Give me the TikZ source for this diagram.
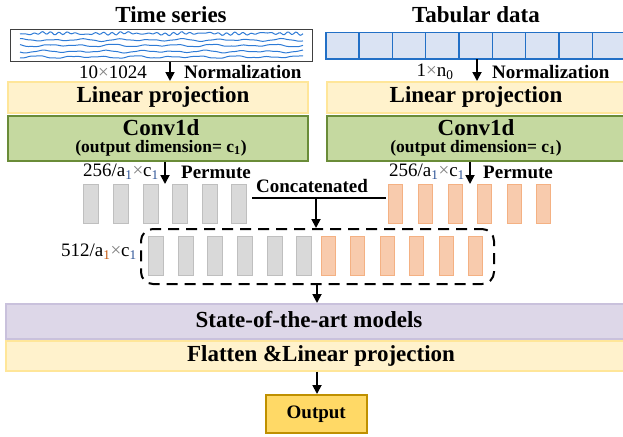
\documentclass[tikz,border=0pt]{standalone}
\usepackage{fontspec}
\setmainfont{Liberation Serif}
\usetikzlibrary{arrows.meta}
\definecolor{lpfill}{HTML}{FFF2CC}
\definecolor{lpdraw}{HTML}{FFE699}
\definecolor{convfill}{HTML}{C5D9A0}
\definecolor{convdraw}{HTML}{6A8C38}
\definecolor{stfill}{HTML}{DDD7E8}
\definecolor{stdraw}{HTML}{C9C1DC}
\definecolor{outfill}{HTML}{FFD966}
\definecolor{outdraw}{HTML}{BF9000}
\definecolor{gfill}{HTML}{D9D9D9}
\definecolor{gdraw}{HTML}{BFBFBF}
\definecolor{ofill}{HTML}{F8CBAD}
\definecolor{odraw}{HTML}{F4B183}
\definecolor{cellfill}{HTML}{DAE3F3}
\definecolor{celldraw}{HTML}{2270C6}
\definecolor{wave}{HTML}{2E7BD6}
\definecolor{subblue}{HTML}{2F5597}
\definecolor{suborange}{HTML}{C55A11}
\newcommand{\ttlfont}{\fontsize{23}{26}\selectfont\bfseries}
\newcommand{\lblfont}{\fontsize{19}{22}\selectfont}
\newcommand{\smfont}{\fontsize{17.5}{20}\selectfont\bfseries}
\newcommand{\sbb}[1]{\textsubscript{\textcolor{subblue}{#1}}}
\newcommand{\sbo}[1]{\textsubscript{\textcolor{suborange}{#1}}}
\newcommand{\tms}{\textcolor{gray}{×}}
\tikzset{
  box/.style={draw, line width=1.5pt, inner sep=0pt, anchor=north west},
  lpbox/.style={box, fill=lpfill, draw=lpdraw},
  convbox/.style={box, fill=convfill, draw=convdraw},
  stbox/.style={box, fill=stfill, draw=stdraw},
  outbox/.style={box, fill=outfill, draw=outdraw},
  grect/.style={draw=gdraw, fill=gfill, line width=1.3pt, minimum width=15pt, minimum height=39pt, inner sep=0pt, anchor=north west},
  orect/.style={draw=odraw, fill=ofill, line width=1.3pt, minimum width=14pt, minimum height=39pt, inner sep=0pt, anchor=north west},
  cellbox/.style={draw=celldraw, fill=cellfill, line width=1.5pt, minimum width=33.33pt, minimum height=26pt, inner sep=0pt, anchor=north west},
  arr/.style={line width=1.8pt, -{Triangle[length=9pt,width=9pt]}},
  txt/.style={inner sep=0pt},
  wv/.style={wave, line width=1pt},
}
\begin{document}
\begin{tikzpicture}[x=1pt,y=-1pt]
\useasboundingbox (0,0) rectangle (623,436);
% titles
\node[txt, font=\ttlfont] (tst) at (171,15) {Time series};
\node[txt, font=\ttlfont] (tabt) at (476,15) {Tabular data};
% time series box
\node[box, draw=black!75, line width=1.2pt, minimum width=302pt, minimum height=32pt] (ts) at (10,29) {};
\draw[wv] plot[domain=20:303, samples=200]
    (\x, {33.5 + 0.8*sin(41*\x) + 0.6*sin(47*\x+40) + 0.5*sin(13*\x+70) + 0.4*sin(5*\x)});
\foreach \i/\yy in {1/40,2/45.5,3/51.5,4/57}{
  \draw[wv] plot[domain=20:303, samples=140]
    (\x, {\yy + 0.8*sin(11*\x+53*\i) + 0.5*sin(7*\x+97*\i) + 0.25*sin(29*\x+31*\i)});
}
% tabular cells
\foreach \k in {0,...,8}{
  \node[cellbox] (cell\k) at ({325+33.33*\k},32) {};
}
% labels under inputs
\node[txt, font=\lblfont] (dimL) at (113,72) {10\tms1024};
\node[txt, font=\lblfont\bfseries, anchor=west] (normL) at (184,72) {Normalization};
\node[txt, font=\lblfont] (dimR) at (435,72) {1\tms n\textsubscript{0}};
\node[txt, font=\lblfont\bfseries, anchor=west] (normR) at (492,72) {Normalization};
% linear projection
\node[lpbox, minimum width=300pt, minimum height=31pt] (lpL) at (7,81) {};
\node[txt, font=\ttlfont] (lpLt) at (163,97) {Linear projection};
\node[lpbox, minimum width=300pt, minimum height=31pt] (lpR) at (326,81) {};
\node[txt, font=\ttlfont] (lpRt) at (476,97) {Linear projection};
% conv
\node[convbox, minimum width=300pt, minimum height=45pt] (cvL) at (7,115) {};
\node[txt, font=\ttlfont] (cvLt) at (161,127.5) {Conv1d};
\node[txt, font=\smfont] (cvLs) at (161,148) {(output dimension= c\textsubscript{1})};
\node[convbox, minimum width=300pt, minimum height=45pt] (cvR) at (326,115) {};
\node[txt, font=\ttlfont] (cvRt) at (476,127.5) {Conv1d};
\node[txt, font=\smfont] (cvRs) at (476,148) {(output dimension= c\textsubscript{1})};
% arrows to linear projection
\draw[arr] (170,0 |- ts.south) -- (170,0 |- lpL.north);
\draw[arr] (477,0 |- cell4.south) -- (477,0 |- lpR.north);
% permute labels
\node[txt, font=\lblfont] (pdL) at (121,172) {256/a\sbb{1}\tms c\sbb{1}};
\node[txt, font=\lblfont\bfseries, anchor=west] (pmL) at (181,172) {Permute};
\node[txt, font=\lblfont] (pdR) at (427,172) {256/a\sbb{1}\tms c\sbb{1}};
\node[txt, font=\lblfont\bfseries, anchor=west] (pmR) at (483,172) {Permute};
% top rows
\foreach \k/\xx in {0/83,1/113,2/143,3/172,4/202,5/231}{
  \node[grect] (tg\k) at (\xx,184) {};
}
\foreach \k/\xx in {0/388,1/418,2/448,3/477,4/507,5/536}{
  \node[orect] (to\k) at (\xx,184) {};
}
\draw[arr] (165,0 |- cvL.south) -- (165,0 |- tg0.north);
\draw[arr] (470,0 |- cvR.south) -- (470,0 |- to0.north);
% concatenation
\node[txt, font=\lblfont\bfseries] (cct) at (312,186) {Concatenated};
\coordinate (cl) at (252,198);
\coordinate (cr) at (386,198);
\coordinate (cm) at (316,198);
\draw[line width=1.8pt] (cl) -- (cr);
% dashed box
\node[draw, line width=2pt, dash pattern=on 11pt off 7pt, dash phase=3pt, rounded corners=12pt, minimum width=353pt, minimum height=55pt, inner sep=0pt, anchor=north west] (cat) at (140,228) {};
\draw[arr] (cm) -- (cm |- cat.north);
\foreach \k/\xx in {0/148,1/178,2/207,3/237,4/267,5/296}{
  \node[grect] (bg\k) at (\xx,236) {};
}
\foreach \k/\xx in {0/321,1/350,2/380,3/409,4/439,5/468}{
  \node[orect] (bo\k) at (\xx,236) {};
}
\node[txt, font=\lblfont] (cdim) at (99,252) {512/a\sbo{1}\tms c\sbb{1}};
% bottom
\node[stbox, minimum width=621pt, minimum height=35pt] (st) at (5,303) {};
\node[txt, font=\ttlfont] (stt) at (309,320) {State-of-the-art models};
\node[lpbox, minimum width=621pt, minimum height=30pt] (fl) at (5,340) {};
\node[txt, font=\ttlfont] (flt) at (321,355.5) {Flatten \&Linear projection};
\node[outbox, minimum width=101pt, minimum height=38pt] (out) at (265,394) {};
\node[txt, font=\lblfont\bfseries] (outt) at (out.center) {Output};
\draw[arr] (317,0 |- cat.south) -- (317,0 |- st.north);
\draw[arr] (317,0 |- fl.south) -- (317,0 |- out.north);
\end{tikzpicture}
\end{document}
